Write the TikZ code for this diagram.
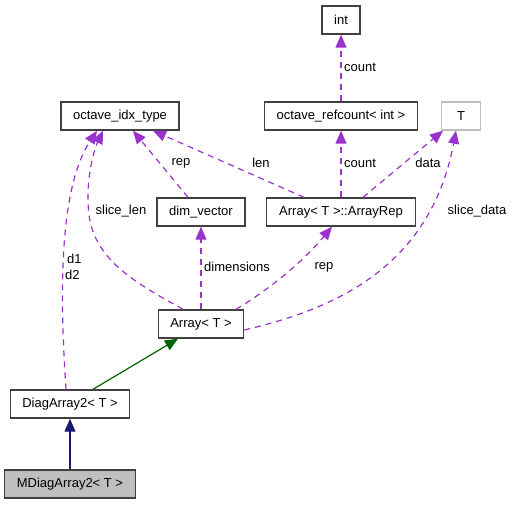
\documentclass[tikz,border=0pt]{standalone}
\usepackage{fontspec}
\setmainfont{Liberation Sans}
\usetikzlibrary{arrows.meta}
\definecolor{edgepurple}{HTML}{9A32CD}
\definecolor{edgegreen}{HTML}{006400}
\definecolor{edgenavy}{HTML}{191970}
\definecolor{boxline}{HTML}{404040}
\definecolor{boxfillgray}{HTML}{BFBFBF}
\definecolor{tline}{HTML}{BFBFBF}
\begin{document}
\begin{tikzpicture}[x=1pt,y=-1pt,
  font=\fontsize{13}{15}\selectfont,
  cls/.style={draw=boxline,line width=1.4pt,inner sep=0pt,minimum height=28pt,anchor=center},
  usage/.style={draw=edgepurple,line width=1.2pt,dash pattern=on 6pt off 5pt,-{Triangle[length=13pt,width=11pt]}},
  inherit/.style={draw=edgegreen,line width=1.2pt,-{Triangle[length=13pt,width=11pt]}},
  inheritb/.style={draw=edgenavy,line width=1.2pt,-{Triangle[length=13pt,width=11pt]}},
  lbl/.style={inner sep=0pt,anchor=west}]
\useasboundingbox (0,0) rectangle (512,504);
% nodes
\node[cls,minimum width=38pt] (int) at (341,20) {int};
\node[cls,minimum width=153pt] (refc) at (341,116) {octave\_refcount< int >};
\node[cls,draw=tline,minimum width=39pt] (T) at (461,116) {T};
\node[cls,minimum width=149pt] (rep) at (341,212) {Array< T >::ArrayRep};
\node[cls,minimum width=118pt] (idx) at (120,116) {octave\_idx\_type};
\node[cls,minimum width=88pt] (dimv) at (201,212) {dim\_vector};
\node[cls,minimum width=85pt] (arr) at (201,324) {Array< T >};
\node[cls,minimum width=119pt] (diag) at (70,404) {DiagArray2< T >};
\node[cls,fill=boxfillgray,minimum width=131pt] (mdiag) at (70,484) {MDiagArray2< T >};
% anchor coordinates
\coordinate (arrTL) at ([xshift=-18pt]arr.north);
\coordinate (arrTR) at ([xshift=35pt]arr.north);
\coordinate (arrE) at ([yshift=-6pt]arr.east);
\coordinate (diagN) at ([xshift=-4pt]diag.north);
\coordinate (diagNE) at ([xshift=23pt]diag.north);
\coordinate (idxB1) at ([xshift=-23pt]idx.south);
\coordinate (idxB2) at ([xshift=-17pt]idx.south);
\coordinate (idxB3) at ([xshift=13pt]idx.south);
\coordinate (idxB4) at ([xshift=33pt]idx.south);
\coordinate (dimvN) at ([xshift=-13pt]dimv.north);
\coordinate (repNL) at ([xshift=-37pt]rep.north);
\coordinate (repNR) at ([xshift=22pt]rep.north);
\coordinate (repS) at ([xshift=-9pt]rep.south);
\coordinate (TSL) at ([xshift=-18pt]T.south);
\coordinate (TS) at ([xshift=-5pt]T.south);
% edges
\draw[inheritb] (mdiag) -- (diag);
\draw[inherit] (diagNE) -- ([xshift=-23pt]arr.south);
\draw[usage] (arr) -- (dimv);
\draw[usage] (arrTR) .. controls (265,292) and (300,265) .. (repS);
\draw[usage] (arrE) .. controls (330,310) and (430,270) .. (TS);
\draw[usage] (arrTL) .. controls (140,285) and (95,262) .. (89,215) .. controls (85,180) and (94,150) .. (idxB2);
\draw[usage] (diagN) .. controls (60,300) and (58,190) .. (idxB1);
\draw[usage] (dimvN) -- (idxB3);
\draw[usage] (repNL) -- (idxB4);
\draw[usage] (rep) -- (refc);
\draw[usage] (repNR) -- (TSL);
\draw[usage] (refc) -- (int);
% labels
\node[lbl] (lcount1) at (344,67) {count};
\node[lbl] (lcount2) at (344,163) {count};
\node[inner sep=0pt] (ldata) at (428,163) {data};
\node[inner sep=0pt] (llen) at (261,163) {len};
\node[inner sep=0pt] (lsd) at (477,211) {slice\_data};
\node[inner sep=0pt] (lrep1) at (181,163) {rep};
\node[inner sep=0pt] (lsl) at (121,211) {slice\_len};
\node[lbl] (ldim) at (204,267) {dimensions};
\node[inner sep=0pt] (lrep2) at (324,267) {rep};
\node[lbl] (ld1) at (67,259) {d1};
\node[lbl] (ld2) at (65,275) {d2};
\end{tikzpicture}
\end{document}
